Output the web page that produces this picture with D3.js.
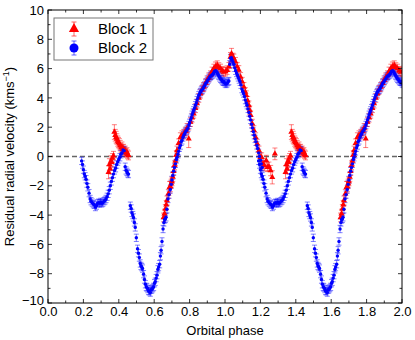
<!DOCTYPE html>
<html>
<head>
<meta charset="utf-8">
<script src="https://cdn.jsdelivr.net/npm/d3@7"></script>
<style>
  body { margin: 0; background: #fff; }
  text { font-family: "Liberation Sans", Arial, sans-serif; fill: #000; }
</style>
</head>
<body>
<div id="chart"></div>
<script>
// Block 1 (red triangles), phases 0.34-1.28
var block1Phase = [0.342, 0.347, 0.351, 0.356, 0.360, 0.365, 0.370, 0.375, 0.380, 0.385, 0.389, 0.394,
    0.398, 0.403, 0.408, 0.413, 0.418, 0.423, 0.427, 0.432, 0.436, 0.441, 0.446, 0.450, 0.455,
    0.653, 0.658, 0.663, 0.668, 0.672, 0.680, 0.687, 0.691, 0.696, 0.700, 0.705, 0.710, 0.715, 0.720,
    0.725, 0.729, 0.738, 0.748, 0.757, 0.767, 0.776, 0.786, 0.795, 0.805, 0.814, 0.823, 0.833, 0.842,
    0.852, 0.861, 0.870, 0.880, 0.890, 0.899, 0.908, 0.918, 0.927, 0.937, 0.946, 0.956, 0.965, 0.975,
    0.984, 0.993, 1.003, 1.012, 1.022, 1.031, 1.037, 1.045, 1.050, 1.059, 1.069, 1.078, 1.088, 1.097,
    1.107, 1.115, 1.120, 1.128, 1.135, 1.140, 1.145, 1.154, 1.163, 1.173, 1.182, 1.192, 1.200, 1.207,
    1.215, 1.222, 1.233, 1.240, 1.248, 1.258, 1.267, 1.282];
var block1Vel = [-1.07, -0.55, -0.84, -0.30, -0.39, -0.10, 0.05, 1.67, 1.45, 1.32, 1.20, 1.05,
    0.95, 0.87, 0.75, 0.60, 0.64, 0.50, 0.53, 0.35, 0.41, 0.25, 0.30, 0.15, 0.07,
    -4.16, -3.90, -3.58, -3.30, -3.00, -2.55, -2.10, -2.05, -1.85, -1.70, -1.40, -1.00, -0.60, -0.30,
    0.10, 0.41, 0.90, 1.32, 1.45, 1.55, 1.70, 1.95, 1.21, 2.35, 2.65, 2.92, 3.30, 3.61,
    4.00, 4.29, 4.55, 4.75, 5.00, 5.20, 5.40, 5.55, 5.80, 6.00, 6.15, 6.23, 6.10, 6.00,
    5.85, 5.77, 5.80, 5.89, 6.12, 6.80, 7.03, 6.75, 6.69, 6.46, 6.12, 5.90, 5.43, 5.10,
    4.75, 4.40, 4.18, 3.80, 3.49, 3.15, 2.81, 2.24, 1.80, 1.32, 0.87, 0.41, -0.05, -0.05,
    -0.50, -0.62, -0.27, -0.73, -0.68, -0.96, -1.42, 0.18];
var block1Err = [0.45, 0.4, 0.35, 0.35, 0.35, 0.3, 0.3, 0.5, 0.4, 0.4, 0.35, 0.35,
    0.35, 0.35, 0.35, 0.3, 0.35, 0.3, 0.3, 0.3, 0.3, 0.3, 0.3, 0.3, 0.3,
    0.3, 0.3, 0.3, 0.3, 0.3, 0.3, 0.4, 0.35, 0.3, 0.3, 0.3, 0.3, 0.3, 0.3,
    0.3, 0.3, 0.3, 0.3, 0.3, 0.3, 0.3, 0.3, 0.6, 0.3, 0.3, 0.3, 0.3, 0.3,
    0.3, 0.3, 0.3, 0.3, 0.3, 0.3, 0.3, 0.3, 0.3, 0.3, 0.3, 0.3, 0.3, 0.3,
    0.3, 0.3, 0.3, 0.3, 0.3, 0.3, 0.35, 0.3, 0.3, 0.3, 0.3, 0.3, 0.3, 0.3,
    0.3, 0.3, 0.3, 0.3, 0.3, 0.3, 0.3, 0.3, 0.3, 0.3, 0.3, 0.3, 0.3, 0.3,
    0.35, 0.35, 0.35, 0.3, 0.3, 0.35, 0.45, 0.4];

// Block 2 (blue circles), phases 0.19-1.21
var block2Phase = [0.190, 0.195, 0.200, 0.205, 0.210, 0.215, 0.220, 0.225, 0.232, 0.238, 0.243, 0.250,
    0.256, 0.262, 0.268, 0.274, 0.280, 0.286, 0.292, 0.298, 0.304, 0.310, 0.316, 0.322, 0.328, 0.334,
    0.340, 0.346, 0.352, 0.358, 0.364, 0.370, 0.376, 0.382, 0.388, 0.394, 0.400, 0.406, 0.412, 0.418,
    0.424, 0.430, 0.436, 0.441, 0.446, 0.450, 0.455,
    0.465, 0.470, 0.474, 0.479, 0.483, 0.488, 0.493, 0.499, 0.506, 0.511, 0.516, 0.521, 0.525, 0.530,
    0.534, 0.540, 0.545, 0.550, 0.555, 0.559, 0.564, 0.568, 0.573, 0.578, 0.582, 0.587, 0.592, 0.597,
    0.602, 0.606, 0.611, 0.616, 0.621, 0.625, 0.631, 0.635, 0.639, 0.644, 0.650, 0.655, 0.659, 0.663,
    0.667, 0.672, 0.678, 0.684, 0.691, 0.696, 0.700, 0.705, 0.710, 0.715, 0.720, 0.725, 0.729, 0.734,
    0.738, 0.743, 0.748, 0.752, 0.757, 0.762, 0.767, 0.771, 0.776, 0.781, 0.786, 0.791, 0.796, 0.800,
    0.805, 0.810, 0.814, 0.819, 0.823, 0.828, 0.833, 0.838, 0.842, 0.847, 0.852, 0.857, 0.861, 0.866,
    0.871, 0.876, 0.880, 0.885, 0.890, 0.895, 0.900, 0.905, 0.910, 0.915, 0.920, 0.925, 0.930, 0.935,
    0.940, 0.946, 0.951, 0.956, 0.961, 0.965, 0.970, 0.975, 0.980, 0.985, 0.990, 0.995, 1.000, 1.006,
    1.012, 1.017, 1.022, 1.027, 1.031, 1.036, 1.040, 1.045, 1.050, 1.055, 1.060, 1.065, 1.070, 1.075,
    1.080, 1.085, 1.090, 1.095, 1.100, 1.105, 1.110, 1.115, 1.120, 1.125, 1.130, 1.135, 1.140, 1.145,
    1.150, 1.155, 1.160, 1.165, 1.170, 1.175, 1.180, 1.185, 1.190, 1.195, 1.200, 1.205, 1.210];
var block2Vel = [-0.30, -0.55, -0.90, -1.20, -1.35, -1.55, -1.85, -2.10, -2.50, -2.90, -3.05, -3.15,
    -3.25, -3.30, -3.45, -3.35, -3.20, -3.15, -3.20, -3.10, -3.20, -3.15, -3.05, -3.00, -2.90, -2.75,
    -2.55, -2.30, -2.00, -1.70, -1.45, -1.20, -0.95, -0.80, -0.55, -0.35, -0.20, -0.05, 0.15, 0.25,
    0.45, 0.40, -0.70, -0.95, -1.05, -1.15, -1.20,
    -3.36, -3.55, -3.85, -4.00, -4.16, -4.50, -4.84, -5.55, -6.30, -6.60, -6.90, -7.30, -7.47, -7.55,
    -7.65, -8.03, -8.40, -8.72, -8.90, -8.95, -9.05, -9.18, -9.20, -9.29, -9.10, -9.06, -8.98, -8.90,
    -8.65, -8.55, -8.30, -8.10, -7.70, -7.55, -7.35, -6.80, -6.40, -5.80, -4.95, -4.50, -4.30, -4.25,
    -4.15, -3.60, -2.90, -2.60, -2.25, -1.90, -1.60, -1.30, -1.00, -0.75, -0.50, -0.20, -0.05, 0.15,
    0.35, 0.60, 0.75, 1.00, 1.10, 1.30, 1.45, 1.55, 1.67, 1.75, 1.85, 1.95, 2.15, 2.30,
    2.50, 2.65, 2.85, 3.00, 3.15, 3.30, 3.50, 3.65, 3.85, 4.00, 4.18, 4.30, 4.40, 4.50,
    4.55, 4.65, 4.75, 4.85, 4.98, 5.05, 5.15, 5.25, 5.35, 5.45, 5.50, 5.55, 5.60, 5.68,
    5.80, 5.85, 5.80, 5.72, 5.60, 5.50, 5.40, 5.30, 5.25, 5.15, 5.10, 5.10, 5.00, 4.95,
    5.00, 5.10, 5.15, 6.30, 6.70, 6.75, 6.60, 6.45, 6.30, 6.05, 5.85, 5.70, 5.55, 5.40,
    5.25, 5.10, 4.90, 4.60, 4.45, 4.30, 4.10, 3.85, 3.65, 3.50, 3.25, 3.00, 2.75, 2.50,
    2.20, 1.95, 1.70, 1.45, 1.20, 1.00, 0.75, 0.55, 0.25, 0.00, -0.25, -0.50, -0.75];
var block2Err = block2Vel.map(function () { return 0.25; });

var xTicks = [0.0, 0.2, 0.4, 0.6, 0.8, 1.0, 1.2, 1.4, 1.6, 1.8, 2.0];
var yTicks = [-10, -8, -6, -4, -2, 0, 2, 4, 6, 8, 10];
var phaseCopies = [0, 1];

var svgWidth = 415;
var svgHeight = 340;
var margin = { top: 10, bottom: 37, left: 48, right: 13 };
var width = svgWidth - margin.left - margin.right;
var height = svgHeight - margin.top - margin.bottom;

var svg = d3.select("#chart")
    .append("svg")
    .attr("width", svgWidth)
    .attr("height", svgHeight);

var chartGroup = svg.append("g")
    .attr("transform", `translate(${margin.left}, ${margin.top})`);

var xScale = d3.scaleLinear().domain([0, 2]).range([0, width]);
var yScale = d3.scaleLinear().domain([-10, 10]).range([height, 0]);

// clip the repeated phase copy to the frame
svg.append("defs").append("clipPath")
    .attr("id", "plotClip")
    .append("rect")
    .attr("width", width)
    .attr("height", height);

// zero line
chartGroup.append("line")
    .attr("x1", 0).attr("x2", width)
    .attr("y1", yScale(0)).attr("y2", yScale(0))
    .attr("stroke", "#666")
    .attr("stroke-width", 1.3)
    .attr("stroke-dasharray", "5,3");

function makePoints(phase, vel, err) {
    var pts = [];
    phaseCopies.forEach(function (off) {
        phase.forEach(function (p, i) {
            pts.push({ x: p + off, y: vel[i], e: err[i] });
        });
    });
    return pts;
}

var block1Data = makePoints(block1Phase, block1Vel, block1Err);
var block2Data = makePoints(block2Phase, block2Vel, block2Err);

var plotArea = chartGroup.append("g").attr("clip-path", "url(#plotClip)");

function drawErrors(data, color) {
    var g = plotArea.append("g")
        .attr("stroke", color)
        .attr("stroke-opacity", 0.5)
        .attr("stroke-width", 1);
    var bars = g.selectAll("g").data(data).enter().append("g");
    bars.append("line")
        .attr("x1", d => xScale(d.x)).attr("x2", d => xScale(d.x))
        .attr("y1", d => yScale(d.y - d.e)).attr("y2", d => yScale(d.y + d.e));
    [-1, 1].forEach(function (s) {
        bars.append("line")
            .attr("x1", d => xScale(d.x) - 2.5).attr("x2", d => xScale(d.x) + 2.5)
            .attr("y1", d => yScale(d.y + s * d.e)).attr("y2", d => yScale(d.y + s * d.e));
    });
}

drawErrors(block1Data, "#ff0000");
drawErrors(block2Data, "#0000ff");

plotArea.append("g").selectAll("path")
    .data(block1Data)
    .enter()
    .append("path")
    .attr("d", d3.symbol().type(d3.symbolTriangle).size(16))
    .attr("transform", d => `translate(${xScale(d.x)}, ${yScale(d.y)})`)
    .attr("fill", "#ff0000");

plotArea.append("g").selectAll("circle")
    .data(block2Data)
    .enter()
    .append("circle")
    .attr("cx", d => xScale(d.x))
    .attr("cy", d => yScale(d.y))
    .attr("r", 1.7)
    .attr("fill", "#0000ff");

// ticks (inside, on all sides)
var minorX = d3.range(0, 2.01, 0.1);
var minorY = d3.range(-10, 10.01, 1);
var tickG = chartGroup.append("g").attr("stroke", "#000").attr("stroke-width", 0.8);
minorX.forEach(function (t) {
    var len = xTicks.some(v => Math.abs(v - t) < 1e-6) ? 4 : 2.5;
    tickG.append("line").attr("x1", xScale(t)).attr("x2", xScale(t)).attr("y1", height).attr("y2", height - len);
    tickG.append("line").attr("x1", xScale(t)).attr("x2", xScale(t)).attr("y1", 0).attr("y2", len);
});
minorY.forEach(function (t) {
    var len = Math.round(t) % 2 === 0 ? 4 : 2.5;
    tickG.append("line").attr("y1", yScale(t)).attr("y2", yScale(t)).attr("x1", 0).attr("x2", len);
    tickG.append("line").attr("y1", yScale(t)).attr("y2", yScale(t)).attr("x1", width).attr("x2", width - len);
});

// frame
chartGroup.append("rect")
    .attr("width", width)
    .attr("height", height)
    .attr("fill", "none")
    .attr("stroke", "#000")
    .attr("stroke-width", 1);

// tick labels
var bottomAxis = d3.axisBottom(xScale).tickValues(xTicks).tickSize(0).tickPadding(4)
    .tickFormat(d3.format(".1f"));
var leftAxis = d3.axisLeft(yScale).tickValues(yTicks).tickSize(0).tickPadding(4)
    .tickFormat(d => d < 0 ? "\u2212" + Math.abs(d) : d);

chartGroup.append("g")
    .attr("transform", `translate(0,${height})`)
    .call(bottomAxis)
    .call(g => g.select(".domain").remove())
    .selectAll("text")
    .style("font-size", "13px")
    .style("font-family", "Liberation Sans, Arial, sans-serif");

chartGroup.append("g")
    .call(leftAxis)
    .call(g => g.select(".domain").remove())
    .selectAll("text")
    .style("font-size", "13px")
    .style("font-family", "Liberation Sans, Arial, sans-serif")
    // lift the bottom label a little so it clears "0.0"
    .attr("y", d => d === -10 ? -3 : 0);

// axis titles
chartGroup.append("text")
    .attr("transform", "rotate(-90)")
    .attr("x", -height / 2)
    .attr("y", -34)
    .attr("text-anchor", "middle")
    .style("font-size", "13px")
    .text("Residual radial velocity (kms")
    .append("tspan").attr("dy", -5).style("font-size", "9px").text("\u22121")
    .select(function () { return this.parentNode; })
    .append("tspan").attr("dy", 5).text(")");

chartGroup.append("text")
    .attr("x", width / 2)
    .attr("y", height + 32)
    .attr("text-anchor", "middle")
    .style("font-size", "13px")
    .text("Orbital phase");

// legend
var legend = svg.append("g").attr("transform", "translate(54, 18)");
legend.append("rect")
    .attr("width", 99).attr("height", 42)
    .attr("fill", "#fff")
    .attr("stroke", "#777")
    .attr("stroke-width", 1);

var legendItems = [
    { label: "Block 1", color: "#ff0000", shape: "triangle", y: 11 },
    { label: "Block 2", color: "#0000ff", shape: "circle", y: 30 }
];
legendItems.forEach(function (item) {
    var g = legend.append("g").attr("transform", `translate(20, ${item.y})`);
    g.append("line").attr("y1", -7).attr("y2", 7).attr("stroke", item.color).attr("stroke-opacity", 0.6);
    g.append("line").attr("x1", -2.5).attr("x2", 2.5).attr("y1", -7).attr("y2", -7).attr("stroke", item.color).attr("stroke-opacity", 0.6);
    g.append("line").attr("x1", -2.5).attr("x2", 2.5).attr("y1", 7).attr("y2", 7).attr("stroke", item.color).attr("stroke-opacity", 0.6);
    if (item.shape === "triangle") {
        g.append("path").attr("d", d3.symbol().type(d3.symbolTriangle).size(45)).attr("fill", item.color);
    } else {
        g.append("circle").attr("r", 4.5).attr("fill", item.color);
    }
    g.append("text")
        .attr("x", 24)
        .attr("y", 5)
        .style("font-size", "15px")
        .text(item.label);
});
</script>
</body>
</html>
